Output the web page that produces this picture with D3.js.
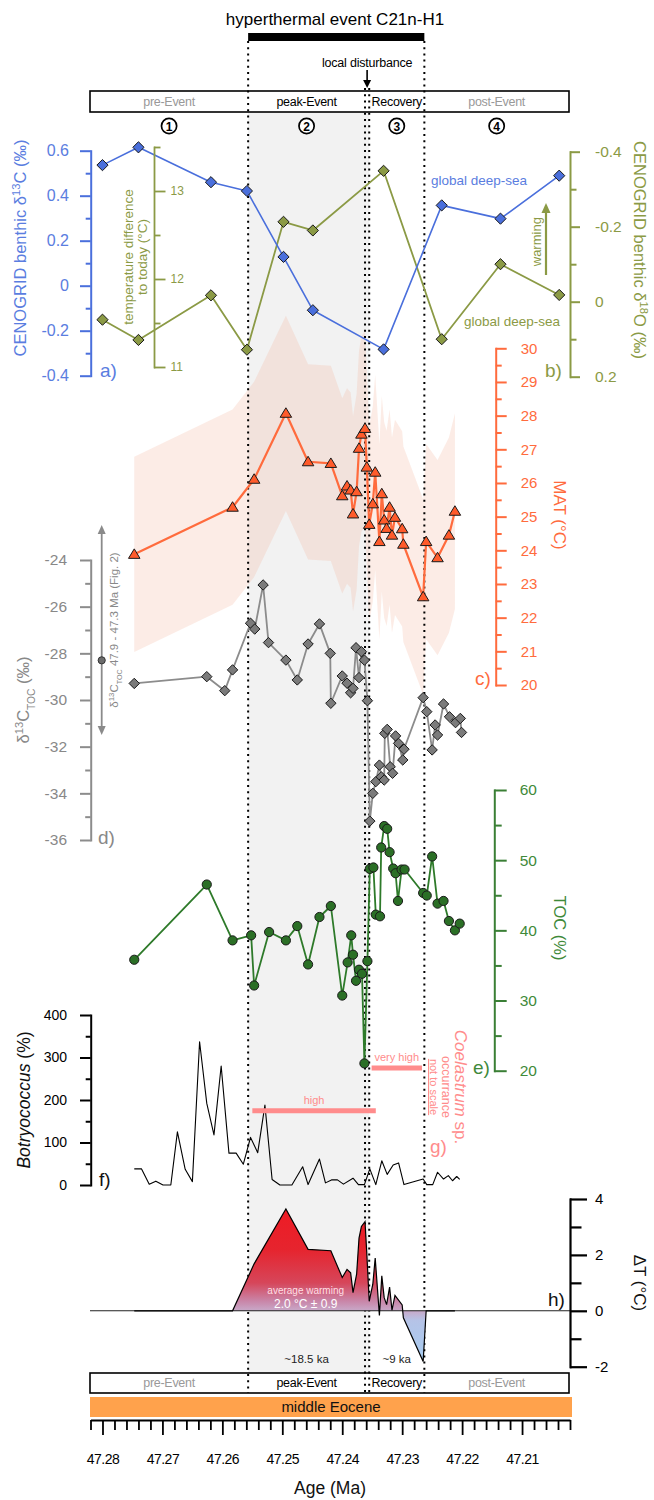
<!DOCTYPE html>
<html>
<head>
<meta charset="utf-8">
<title>Hyperthermal event C21n-H1</title>
<script src="https://cdn.jsdelivr.net/npm/d3@7/dist/d3.min.js"></script>
<style>
  html, body { margin: 0; padding: 0; background: #fff; }
  svg { display: block; font-family: "Liberation Sans", Arial, Helvetica, sans-serif; }
</style>
</head>
<body>
<svg id="chart" width="654" height="1500"></svg>
<script>
// ---------------- data ----------------
// age axis (Ma)
const ageTicks = [47.28, 47.27, 47.26, 47.25, 47.24, 47.23, 47.22, 47.21];
// start of peak, end of peak, start of recovery, end of recovery (Ma)
const phaseBounds = [47.2557, 47.2362, 47.2355, 47.2263];
const phaseNames = ["pre-Event", "peak-Event", "Recovery", "post-Event"];
const phaseNumbers = ["1", "2", "3", "4"];
const phaseDurations = ["~18.5 ka", "~9 ka"];

// a, b) CENOGRID global deep-sea benthic isotopes
const cenogridAge  = [47.2800, 47.2740, 47.2619, 47.2559, 47.2498, 47.2449, 47.2331, 47.2234, 47.2136, 47.2038];
const cenogridD13C = [0.536, 0.615, 0.46, 0.421, 0.128, -0.109, -0.283, 0.357, 0.298, 0.489];
const cenogridD18O = [0.048, 0.102, -0.017, 0.128, -0.213, -0.19, -0.349, 0.1, -0.1, -0.018];

// c) mean annual temperature (°C) with calibration uncertainty
const matAge = [47.2747, 47.2583, 47.2547, 47.2494, 47.2457, 47.2419, 47.2400, 47.2392, 47.2386, 47.2382,
                47.2376, 47.2372, 47.2368, 47.2362, 47.2359, 47.2355, 47.2349, 47.2345, 47.2338, 47.2334,
                47.2330, 47.2326, 47.2321, 47.2317, 47.2312, 47.2300, 47.2298, 47.2265, 47.2260, 47.2241,
                47.2222, 47.2212];
const matValue = [23.88, 25.28, 26.11, 28.07, 26.63, 26.58, 25.62, 25.91, 25.79, 25.08,
                  25.74, 27.03, 27.45, 27.62, 26.47, 24.77, 25.38, 26.32, 24.26, 25.68,
                  24.90, 24.65, 25.28, 24.45, 24.98, 24.64, 24.18, 22.62, 24.26, 23.78,
                  24.45, 25.16];
const matUncertainty = 2.9;

// d) bulk organic carbon isotopes (‰)
const d13cTocAge = [47.2747, 47.2626, 47.2596, 47.2583, 47.2553, 47.2546, 47.2532, 47.2523, 47.2494, 47.2475,
                    47.2457, 47.2438, 47.2420, 47.2419, 47.2400, 47.2392, 47.2386, 47.2382, 47.2377, 47.2372,
                    47.2368, 47.2363, 47.2358, 47.2354, 47.2349, 47.2344, 47.2338, 47.2335, 47.2330, 47.2329,
                    47.2325, 47.2320, 47.2316, 47.2311, 47.2306, 47.2299, 47.2297, 47.2265, 47.2259, 47.2250,
                    47.2245, 47.2241, 47.2231, 47.2221, 47.2211, 47.2203, 47.2201];
const d13cTocValue = [-29.29, -29.0, -29.6, -28.71, -26.71, -26.96, -25.07, -27.54, -28.29, -29.14,
                      -27.6, -26.74, -28.0, -30.14, -28.97, -29.28, -29.69, -29.5, -27.76, -29.04,
                      -27.93, -28.29, -30.03, -35.19, -34.0, -33.5, -32.79, -33.29, -33.43, -31.43,
                      -31.26, -32.86, -33.14, -31.54, -31.86, -32.57, -32.11, -29.9, -30.5, -32.14,
                      -31.07, -31.5, -30.17, -30.72, -30.97, -30.79, -31.39];
// long-term range and mean 47.9 - 47.3 Ma
const d13cTocLongTermRange = [-31.5, -22.5];
const d13cTocLongTermMean = -28.3;

// e) total organic carbon (%)
const tocAge = [47.2747, 47.2626, 47.2583, 47.2552, 47.2547, 47.2522, 47.2494, 47.2475, 47.2457, 47.2438,
                47.2419, 47.2400, 47.2391, 47.2385, 47.2382, 47.2377, 47.2372, 47.2367, 47.2363, 47.2358,
                47.2354, 47.2348, 47.2344, 47.2337, 47.2335, 47.2330, 47.2325, 47.2321, 47.2315, 47.2311,
                47.2307, 47.2301, 47.2296, 47.2265, 47.2259, 47.2250, 47.2241, 47.2231, 47.2222, 47.2212,
                47.2204];
const tocValue = [35.81, 46.53, 38.57, 39.29, 32.14, 39.76, 38.57, 40.61, 35.14, 41.90,
                  43.47, 30.71, 35.43, 39.29, 36.53, 32.81, 34.39, 33.81, 21.04, 35.61,
                  48.76, 48.96, 42.24, 42.00, 51.81, 54.86, 54.47, 51.14, 48.81, 48.14,
                  44.19, 48.67, 48.67, 45.33, 44.96, 50.53, 43.81, 44.19, 41.33, 40.00,
                  40.96];

// f) Botryococcus (%)
const botAge = [47.2747, 47.2735, 47.2722, 47.2711, 47.2699, 47.2686, 47.2675, 47.2662, 47.2650, 47.2638,
                47.2626, 47.2614, 47.2602, 47.2589, 47.2577, 47.2565, 47.2553, 47.2541, 47.2529, 47.2517,
                47.2504, 47.2484, 47.2466, 47.2457, 47.2438, 47.2428, 47.2418, 47.2408, 47.2398, 47.2382,
                47.2373, 47.2363, 47.2354, 47.2344, 47.2334, 47.2325, 47.2315, 47.2306, 47.2297, 47.2265,
                47.2259, 47.2249, 47.2241, 47.2231, 47.2223, 47.2216, 47.2209, 47.2204];
const botValue = [38, 38, 2, 9, 0, 0, 125, 37, 8, 337,
                  192, 118, 280, 75, 75, 49, 112, 76, 188, 13,
                  0, 0, 43, 1, 61, 5, 12, 12, 2, 16,
                  1, 1, 38, 1, 57, 25, 47, 52, 1, 14,
                  1, 1, 30, 14, 22, 10, 20, 13];

// g) Coelastrum sp. occurrence intervals
const coelastrumNames = ["high", "very high"];
const coelastrumFrom = [47.2550, 47.2351];
const coelastrumTo = [47.2344, 47.2267];

// h) temperature anomaly (°C)
const dtAge = matAge;
const dtValue = [0, 0, 1.68, 3.64, 2.20, 2.15, 1.19, 1.48, 1.36, 0.65,
                 1.31, 2.60, 3.02, 3.19, 2.04, 0.34, 0.95, 1.89, -0.17, 1.25,
                 0.47, 0.22, 0.85, 0.02, 0.55, 0.21, -0.25, -1.81, 0, 0,
                 0, 0];
const averageWarming = "2.0 °C ± 0.9";

// ---------------- colours ----------------
const C = {
  blue: "#4a6fdc", blueText: "#5a7de0",
  olive: "#8b9a45",
  orange: "#ff6b3d", orangeFill: "#ff5b2b",
  gray: "#8c8c8c", grayFill: "#7b7b7b", grayText: "#888",
  green: "#2e7a2a", greenFill: "#2b6f26", greenText: "#3f8a3a",
  salmon: "#ff8c8c"
};

// ---------------- scales ----------------
const svg = d3.select("#chart");
const x = d3.scaleLinear().domain([47.282, 47.202]).range([90.5, 570]);

const yD13C = d3.scaleLinear().domain([-0.4, 0.6]).range([375.7, 150.7]);
const yD18O = d3.scaleLinear().domain([-0.4, 0.2]).range([151.7, 376.7]);
const yTemp = d3.scaleLinear().domain([11, 13.5]).range([367, 147]);
const yMat = d3.scaleLinear().domain([20, 30]).range([685, 348.3]);
const yToc13 = d3.scaleLinear().domain([-36, -24]).range([840, 560]);
const yToc = d3.scaleLinear().domain([20, 60]).range([1070.7, 790]);
const yBot = d3.scaleLinear().domain([0, 400]).range([1185, 1015]);
const yDt = d3.scaleLinear().domain([-2, 4]).range([1366.7, 1199]);

// ---------------- layers ----------------
const defs = svg.append("defs");
const gBack = svg.append("g");
const gBand = svg.append("g");
const gFrame = svg.append("g");
const gGuide = svg.append("g");
const gMarks = svg.append("g");
const gAxes = svg.append("g");
const gText = svg.append("g");

const boxLeft = 90, boxRight = 569;
const hyphen = s => s.replace(/\u2212/g, "-");

// ---------------- helpers ----------------
const diamond = r => `M0,${-r}L${r},0L0,${r}L${-r},0Z`;
const triangle = r => `M0,${-r * 1.1}L${r * 1.15},${r * 0.8}L${-r * 1.15},${r * 0.8}Z`;

function label(parent, tx, ty, txt, size, color, anchor = "middle", extra = {}) {
  const t = parent.append("text").attr("x", tx).attr("y", ty)
    .attr("text-anchor", anchor).attr("fill", color)
    .style("font-size", size + "px").text(txt);
  Object.entries(extra).forEach(([k, v]) => t.style(k, v));
  return t;
}

function rotText(parent, cx, cy, angle, size, color, parts) {
  const t = parent.append("text")
    .attr("transform", `translate(${cx},${cy}) rotate(${angle})`)
    .attr("text-anchor", "middle").attr("dy", "0.35em")
    .attr("fill", color).style("font-size", size + "px");
  (typeof parts === "string" ? [{ t: parts }] : parts).forEach(p => {
    const s = t.append("tspan").text(p.t);
    if (p.sup) s.attr("baseline-shift", "super").style("font-size", "68%");
    if (p.sub) s.attr("baseline-shift", "sub").style("font-size", "62%");
    if (p.i) s.style("font-style", "italic");
    if (p.u) s.attr("text-decoration", "underline");
  });
  return t;
}

function vAxis(o) {
  const g = gAxes.append("g").attr("transform", `translate(${o.x},0)`);
  const mk = o.side === "left" ? d3.axisLeft : d3.axisRight;
  g.append("g")
    .call(mk(o.scale).tickValues(o.minors).tickSize(o.minorLen).tickFormat("").tickSizeOuter(0))
    .call(a => a.select(".domain").remove());
  const ga = g.append("g")
    .call(mk(o.scale).tickValues(o.majors).tickSize(o.majorLen).tickPadding(o.pad)
      .tickFormat(d => hyphen(o.fmt(d))).tickSizeOuter(0));
  g.selectAll("g").attr("font-family", null).attr("font-size", null);
  g.selectAll("line").attr("stroke", o.color).attr("stroke-width", o.width || 2);
  ga.select(".domain").attr("stroke", o.color).attr("stroke-width", o.width || 2)
    .attr("stroke-linecap", "square");
  ga.selectAll("text").attr("fill", o.textColor || o.color).style("font-size", o.size + "px");
  return g;
}

function series(ages, values, yScale, opts) {
  const pts = ages.map((a, i) => [x(a), yScale(values[i])]);
  gMarks.append("path").attr("d", d3.line()(pts))
    .attr("fill", "none").attr("stroke", opts.stroke).attr("stroke-width", opts.lineWidth)
    .attr("stroke-linejoin", "round");
  if (!opts.marker) return;
  gMarks.append("g").selectAll("path").data(pts).join("path")
    .attr("transform", d => `translate(${d[0]},${d[1]})`)
    .attr("d", opts.marker)
    .attr("fill", opts.fill).attr("stroke", "#1a1a1a").attr("stroke-width", 1);
}

// ---------------- background: peak-event shading ----------------
gBack.append("rect")
  .attr("x", x(phaseBounds[0])).attr("y", 112)
  .attr("width", x(phaseBounds[2]) - x(phaseBounds[0])).attr("height", 1373 - 112)
  .attr("fill", "#f2f2f2");

// MAT uncertainty envelope
const matIdx = d3.range(matAge.length);
gBand.append("path")
  .attr("d", d3.area()
    .x(i => x(matAge[i]))
    .y0(i => yMat(matValue[i] - matUncertainty))
    .y1(i => yMat(matValue[i] + matUncertainty))(matIdx))
  .attr("fill", "#f5b49a").attr("fill-opacity", 0.25);

// ---------------- frames ----------------
gFrame.append("rect").attr("x", x(phaseBounds[0])).attr("y", 33)
  .attr("width", x(phaseBounds[3]) - x(phaseBounds[0])).attr("height", 8).attr("fill", "#000");
[[91, 21], [1373, 20]].forEach(([by, bh]) => {
  gFrame.append("rect").attr("x", boxLeft).attr("y", by).attr("width", boxRight - boxLeft)
    .attr("height", bh).attr("fill", "#fff").attr("stroke", "#000").attr("stroke-width", 1.6);
});
gFrame.append("rect").attr("x", 90).attr("y", 1397).attr("width", 482).attr("height", 20)
  .attr("fill", "#ffa24c");

// ---------------- dotted phase boundaries ----------------
phaseBounds.forEach((b, i) => {
  gGuide.append("line")
    .attr("x1", x(b)).attr("x2", x(b))
    .attr("y1", (i === 0 || i === 3) ? 41 : 88).attr("y2", 1393)
    .attr("stroke", "#000").attr("stroke-width", 2).attr("stroke-dasharray", "2,4.2");
});

// phase names, numbers, durations
const segEdges = [boxLeft, x(phaseBounds[0]), x(phaseBounds[1]), x(phaseBounds[2]), x(phaseBounds[3]), boxRight];
const segMid = [
  (segEdges[0] + segEdges[1]) / 2,
  (segEdges[1] + segEdges[2]) / 2,
  (segEdges[3] + segEdges[4]) / 2,
  (segEdges[4] + segEdges[5]) / 2
];
phaseNames.forEach((n, i) => {
  const col = (i === 1 || i === 2) ? "#000" : "#999";
  label(gText, segMid[i], 105.5, n, 12.5, col, "middle", { "letter-spacing": "-0.3px" });
  label(gText, segMid[i], 1386.5, n, 12.5, col, "middle", { "letter-spacing": "-0.3px" });
  gText.append("circle").attr("cx", segMid[i]).attr("cy", 126).attr("r", 7.6)
    .attr("fill", "#fff").attr("stroke", "#000").attr("stroke-width", 1.7);
  label(gText, segMid[i], 130.5, phaseNumbers[i], 12, "#000", "middle", { "font-weight": "bold" });
});
label(gText, segMid[1], 1363, phaseDurations[0], 11.5, "#222");
label(gText, (x(phaseBounds[2]) + x(phaseBounds[3])) / 2, 1363, phaseDurations[1], 11.5, "#222");

// title & local disturbance
label(gText, 335, 25, "hyperthermal event C21n-H1", 17, "#000");
const distX = (x(phaseBounds[1]) + x(phaseBounds[2])) / 2;
label(gText, distX, 66.5, "local disturbance", 12.5, "#000", "middle", { "letter-spacing": "-0.2px" });
gText.append("line").attr("x1", distX).attr("x2", distX).attr("y1", 70).attr("y2", 82)
  .attr("stroke", "#000").attr("stroke-width", 1.6);
gText.append("path").attr("d", `M${distX - 4},${80}L${distX + 4},${80}L${distX},${88}Z`).attr("fill", "#000");

label(gText, 331, 1412, "middle Eocene", 15, "#111");

// ---------------- a, b) CENOGRID ----------------
series(cenogridAge, cenogridD18O, yD18O, { stroke: C.olive, lineWidth: 1.8 });
series(cenogridAge, cenogridD13C, yD13C, { stroke: C.blue, lineWidth: 1.6 });
series(cenogridAge, cenogridD18O, yD18O, { stroke: "none", lineWidth: 0, marker: diamond(5.6), fill: C.olive });
series(cenogridAge, cenogridD13C, yD13C, { stroke: "none", lineWidth: 0, marker: diamond(5.6), fill: C.blue });

// ---------------- c) MAT ----------------
series(matAge, matValue, yMat, { stroke: C.orange, lineWidth: 2.2, marker: triangle(5), fill: C.orangeFill });

// ---------------- d) δ13C TOC ----------------
series(d13cTocAge, d13cTocValue, yToc13, { stroke: C.gray, lineWidth: 1.8, marker: diamond(5.2), fill: C.grayFill });

// long-term range arrow
{
  const ax = 101.7;
  const yTop = yToc13(d13cTocLongTermRange[1]), yBot0 = yToc13(d13cTocLongTermRange[0]);
  gMarks.append("line").attr("x1", ax).attr("x2", ax).attr("y1", yTop + 6).attr("y2", yBot0 - 6)
    .attr("stroke", "#8a8a8a").attr("stroke-width", 1.8);
  gMarks.append("path").attr("d", `M${ax},${yTop}L${ax + 4},${yTop + 9}L${ax - 4},${yTop + 9}Z`).attr("fill", "#8a8a8a");
  gMarks.append("path").attr("d", `M${ax},${yBot0}L${ax + 4},${yBot0 - 9}L${ax - 4},${yBot0 - 9}Z`).attr("fill", "#8a8a8a");
  gMarks.append("circle").attr("cx", ax).attr("cy", yToc13(d13cTocLongTermMean)).attr("r", 3.6)
    .attr("fill", "#6b6b6b").attr("stroke", "#333").attr("stroke-width", 1);
}

// ---------------- e) TOC ----------------
{
  const pts = tocAge.map((a, i) => [x(a), yToc(tocValue[i])]);
  gMarks.append("path").attr("d", d3.line()(pts)).attr("fill", "none")
    .attr("stroke", C.green).attr("stroke-width", 1.8).attr("stroke-linejoin", "round");
  gMarks.append("g").selectAll("circle").data(pts).join("circle")
    .attr("cx", d => d[0]).attr("cy", d => d[1]).attr("r", 4.6)
    .attr("fill", C.greenFill).attr("stroke", "#1a1a1a").attr("stroke-width", 1);
}

// ---------------- f) Botryococcus ----------------
series(botAge, botValue, yBot, { stroke: "#000", lineWidth: 1.1 });

// ---------------- g) Coelastrum ----------------
const coelastrumLevel = [1110.7, 1068];
coelastrumNames.forEach((n, i) => {
  gMarks.append("line")
    .attr("x1", x(coelastrumFrom[i])).attr("x2", x(coelastrumTo[i]))
    .attr("y1", coelastrumLevel[i]).attr("y2", coelastrumLevel[i])
    .attr("stroke", C.salmon).attr("stroke-width", 5);
  label(gText, (x(coelastrumFrom[i]) + x(coelastrumTo[i])) / 2, coelastrumLevel[i] - 7, n, 11, C.salmon);
});

// ---------------- h) ΔT ----------------
{
  const grad = defs.append("linearGradient").attr("id", "dtFill")
    .attr("gradientUnits", "userSpaceOnUse")
    .attr("x1", 0).attr("x2", 0).attr("y1", yDt(3.7)).attr("y2", yDt(-1.9));
  [[3.7, "#ee1b24"], [2.2, "#e6242e"], [1.0, "#d6465a"], [0.35, "#c985a8"], [0, "#c8a9c9"],
   [-0.35, "#b5c3e7"], [-1.9, "#a6cdf2"]].forEach(([v, c]) =>
    grad.append("stop").attr("offset", (3.7 - v) / 5.6).attr("stop-color", c));
  const idx = d3.range(dtAge.length);
  gMarks.append("path")
    .attr("d", d3.area().x(i => x(dtAge[i])).y0(yDt(0)).y1(i => yDt(dtValue[i]))(idx))
    .attr("fill", "url(#dtFill)");
  gMarks.append("line").attr("x1", 90).attr("x2", 570).attr("y1", yDt(0)).attr("y2", yDt(0))
    .attr("stroke", "#222").attr("stroke-width", 1.1);
  gMarks.append("path")
    .attr("d", d3.line().x(i => x(dtAge[i])).y(i => yDt(dtValue[i]))(idx))
    .attr("fill", "none").attr("stroke", "#000").attr("stroke-width", 1.2);
  label(gText, 305.7, 1294, "average warming", 10, "#ffdfe4");
  label(gText, 305.7, 1307.5, averageWarming, 12, "#ffffff");
}

// ---------------- axes ----------------
const f1 = d => d === 0 ? "0" : d3.format(".1f")(d);
vAxis({ x: 90.7, side: "left", scale: yD13C, majors: [-0.4, -0.2, 0, 0.2, 0.4, 0.6], minors: [-0.3, -0.1, 0.1, 0.3, 0.5],
  majorLen: 10.7, minorLen: 5, pad: 11, fmt: f1, color: C.blue, textColor: C.blueText, size: 16 });
vAxis({ x: 154, side: "right", scale: yTemp, majors: [11, 12, 13], minors: [11.5, 12.5, 13.5],
  majorLen: 11.5, minorLen: 6.5, pad: 5, fmt: d3.format("d"), color: C.olive, size: 12, width: 1.8 });
vAxis({ x: 570, side: "right", scale: yD18O, majors: [-0.4, -0.2, 0, 0.2], minors: [-0.3, -0.1, 0.1],
  majorLen: 10, minorLen: 6.5, pad: 15, fmt: f1, color: C.olive, size: 15.5 });
vAxis({ x: 495.7, side: "right", scale: yMat, majors: d3.range(20, 31), minors: d3.range(20.5, 30, 1),
  majorLen: 11, minorLen: 6, pad: 14, fmt: d3.format("d"), color: C.orange, size: 15, width: 2 });
vAxis({ x: 90.7, side: "left", scale: yToc13, majors: d3.range(-36, -23, 2), minors: d3.range(-35, -24, 2),
  majorLen: 10.7, minorLen: 5.5, pad: 13, fmt: d3.format("d"), color: C.gray, textColor: C.grayText, size: 15.5 });
vAxis({ x: 494.3, side: "right", scale: yToc, majors: [20, 30, 40, 50, 60], minors: [25, 35, 45, 55],
  majorLen: 12.4, minorLen: 7.4, pad: 13, fmt: d3.format("d"), color: "#3a7f35", textColor: C.greenText, size: 15.5 });
vAxis({ x: 90.7, side: "left", scale: yBot, majors: [0, 100, 200, 300, 400], minors: [50, 150, 250, 350],
  majorLen: 10.7, minorLen: 5, pad: 13, fmt: d3.format("d"), color: "#000", size: 14 });
vAxis({ x: 570, side: "right", scale: yDt, majors: [-2, 0, 2, 4], minors: [-1, 1, 3],
  majorLen: 17, minorLen: 11.5, pad: 8, fmt: d3.format("d"), color: "#000", size: 15, width: 2.2 });

// bottom age axis
{
  const minorAges = d3.range(0, 41).map(i => +(47.282 - i * 0.002).toFixed(3))
    .filter(a => !ageTicks.some(t => Math.abs(t - a) < 1e-6));
  const gx = gAxes.append("g").attr("transform", "translate(0,1420)");
  gx.append("g").call(d3.axisBottom(x).tickValues(minorAges).tickSize(10).tickFormat("").tickSizeOuter(0))
    .call(a => a.select(".domain").remove());
  gx.append("g").call(d3.axisBottom(x).tickValues(ageTicks).tickSize(15).tickPadding(19)
    .tickFormat(d3.format(".2f")).tickSizeOuter(0));
  gx.selectAll("g").attr("font-family", null).attr("font-size", null);
  gx.selectAll("line").attr("stroke", "#000").attr("stroke-width", 1.8);
  gx.selectAll(".domain").attr("stroke", "#000").attr("stroke-width", 2);
  gx.selectAll("text").attr("fill", "#000").style("font-size", "14px").style("letter-spacing", "-0.5px");
  label(gText, 330, 1494, "Age (Ma)", 17.5, "#111");
}

// ---------------- axis titles & annotations ----------------
rotText(gText, 20, 248, -90, 16.5, C.blueText, [{ t: "CENOGRID benthic δ" }, { t: "13", sup: 1 }, { t: "C (‰)" }]);
rotText(gText, 640, 250, 90, 16.5, C.olive, [{ t: "CENOGRID benthic δ" }, { t: "18", sup: 1 }, { t: "O (‰)" }]);
rotText(gText, 128, 257, -90, 13.5, C.olive, "temperature difference");
rotText(gText, 142.5, 257, -90, 13.5, C.olive, "to today (°C)");
label(gText, 479, 184.5, "global deep-sea", 13.5, C.blueText);
label(gText, 512, 326, "global deep-sea", 13.5, C.olive);
rotText(gText, 536, 241.7, -90, 13, C.olive, "warming");
gText.append("line").attr("x1", 546).attr("x2", 546).attr("y1", 275).attr("y2", 211)
  .attr("stroke", C.olive).attr("stroke-width", 2.2);
gText.append("path").attr("d", "M546,203L550.5,213L541.5,213Z").attr("fill", C.olive);

rotText(gText, 560, 515, 90, 17, C.orange, "MAT (°C)");
rotText(gText, 23, 700, -90, 16.5, C.grayText, [{ t: "δ" }, { t: "13", sup: 1 }, { t: "C" }, { t: "TOC", sub: 1 }, { t: " (‰)" }]);
rotText(gText, 113.5, 630, -90, 11.5, C.grayText, [{ t: "δ" }, { t: "13", sup: 1 }, { t: "C" }, { t: "TOC", sub: 1 }, { t: " 47.9 - 47.3 Ma (Fig. 2)" }]);
rotText(gText, 560, 928, 90, 16.5, C.greenText, "TOC (%)");
rotText(gText, 24, 1100, -90, 17.5, "#111", [{ t: "Botryococcus", i: 1 }, { t: " (%)" }]);
rotText(gText, 461, 1087, 90, 17, C.salmon, [{ t: "Coelastrum", i: 1 }, { t: " sp." }]);
rotText(gText, 446, 1087, 90, 12.5, C.salmon, "occurrance");
rotText(gText, 434, 1087, 90, 11, C.salmon, [{ t: "not to scale", u: 1 }]);
rotText(gText, 640, 1283, 90, 17, "#111", "ΔT (°C)");

// panel letters
[["a)", 100, 377, C.blueText], ["b)", 545, 377, C.olive], ["c)", 475, 685, C.orange],
 ["d)", 98, 844, C.grayText], ["e)", 473, 1074, C.greenText], ["f)", 99, 1186, "#111"],
 ["g)", 430, 1153, C.salmon], ["h)", 548, 1306, "#111"]].forEach(([t, lx, ly, c]) =>
  label(gText, lx, ly, t, 19, c, "start"));
</script>
</body>
</html>
